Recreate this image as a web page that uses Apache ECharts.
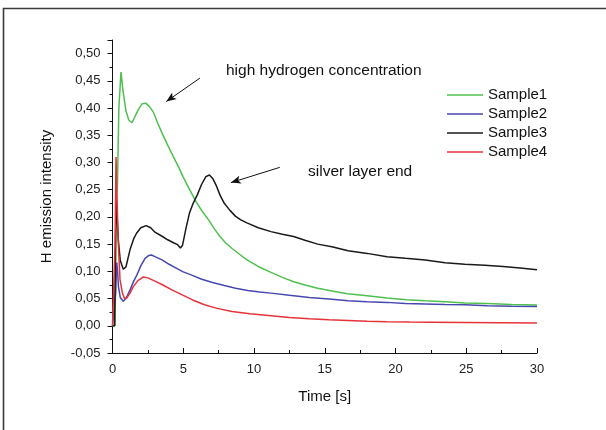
<!DOCTYPE html>
<html>
<head>
<meta charset="utf-8">
<script src="https://cdn.jsdelivr.net/npm/echarts@6/dist/echarts.min.js"></script>
<style>
  html, body { margin: 0; padding: 0; background: #ffffff; }
  #chart { width: 606px; height: 430px; }
</style>
</head>
<body>
<div id="chart"></div>
<script>
// H emission intensity over time, four samples: [time s, intensity]
const sample1 = [[0,0],[0.18,0],[0.28,0.23],[0.35,0.26],[0.45,0.40],[0.6,0.466],[0.75,0.43],[0.95,0.395],[1.15,0.378],[1.38,0.373],[1.6,0.385],[1.85,0.398],[2.1,0.408],[2.35,0.409],[2.6,0.403],[2.9,0.392],[3.2,0.372],[3.5,0.354],[3.9,0.332],[4.35,0.308],[4.7,0.29],[5.0,0.273],[5.45,0.25],[5.9,0.228],[6.35,0.21],[6.8,0.194],[7.2,0.178],[7.6,0.164],[8.0,0.152],[8.45,0.142],[9.0,0.131],[9.5,0.121],[10.3,0.109],[11.2,0.098],[12.0,0.089],[12.8,0.081],[13.6,0.075],[14.5,0.069],[15.5,0.064],[16.6,0.059],[18.0,0.055],[19.4,0.051],[20.8,0.048],[22.1,0.046],[23.5,0.044],[24.9,0.042],[26.5,0.041],[28.2,0.039],[30,0.038]];
const sample2 = [[0,0],[0.13,0],[0.22,0.06],[0.3,0.116],[0.36,0.1],[0.42,0.072],[0.55,0.052],[0.76,0.045],[0.95,0.05],[1.24,0.066],[1.5,0.082],[1.7,0.092],[2.0,0.11],[2.3,0.124],[2.55,0.129],[2.76,0.13],[3.0,0.127],[3.5,0.121],[4.0,0.113],[4.5,0.106],[5.0,0.099],[5.6,0.093],[6.26,0.086],[7.0,0.08],[7.9,0.074],[8.7,0.069],[9.55,0.065],[10.4,0.062],[11.2,0.06],[12.5,0.056],[13.9,0.052],[15.3,0.049],[16.65,0.046],[18.0,0.044],[19.4,0.043],[20.7,0.041],[22.1,0.040],[23.5,0.039],[24.9,0.0385],[26.5,0.037],[28.2,0.036],[30,0.0355]];
const sample3 = [[0,0],[0.15,0],[0.22,0.17],[0.28,0.23],[0.35,0.19],[0.41,0.158],[0.55,0.12],[0.76,0.104],[0.95,0.108],[1.24,0.14],[1.5,0.16],[1.7,0.17],[2.0,0.18],[2.38,0.184],[2.7,0.18],[3.0,0.172],[3.53,0.164],[3.9,0.158],[4.35,0.152],[4.6,0.149],[4.8,0.143],[4.95,0.148],[5.2,0.18],[5.44,0.207],[5.7,0.225],[6.0,0.241],[6.3,0.26],[6.6,0.274],[6.85,0.277],[7.1,0.27],[7.36,0.256],[7.6,0.24],[7.9,0.225],[8.3,0.212],[8.7,0.201],[9.1,0.194],[9.5,0.189],[10.3,0.18],[11.2,0.173],[12.0,0.168],[12.8,0.164],[13.6,0.157],[14.5,0.15],[15.5,0.145],[16.65,0.138],[18.0,0.133],[19.4,0.127],[20.7,0.124],[22.1,0.121],[23.5,0.116],[24.9,0.113],[26.3,0.111],[27.6,0.109],[28.8,0.106],[30,0.103]];
const sample4 = [[0,0],[0.1,0],[0.18,0.15],[0.25,0.31],[0.3,0.25],[0.41,0.152],[0.53,0.085],[0.7,0.06],[0.85,0.05],[1.0,0.051],[1.24,0.06],[1.47,0.072],[1.8,0.083],[2.16,0.0895],[2.5,0.088],[3.0,0.082],[3.53,0.0754],[4.2,0.066],[5.0,0.0558],[5.7,0.047],[6.5,0.0386],[7.4,0.032],[8.45,0.0263],[9.7,0.022],[11.2,0.0184],[12.5,0.015],[13.9,0.0129],[15.3,0.011],[16.65,0.0098],[18.0,0.0085],[19.4,0.0074],[21,0.0068],[22.5,0.0064],[24.9,0.006],[27.5,0.0055],[30,0.005]];

const seriesNames = ['Sample1', 'Sample2', 'Sample3', 'Sample4'];
const seriesColors = ['#4fc04f', '#4747b0', '#1a1a1a', '#e5333a'];

// annotation arrows, in data coordinates: [from, to]
const arrowHydrogen = [[6.18, 0.455], [3.8, 0.412]];
const arrowSilver = [[11.82, 0.291], [8.37, 0.263]];

const FONT = '"Liberation Sans", Arial, sans-serif';
const chart = echarts.init(document.getElementById('chart'), null, { renderer: 'canvas' });

const allData = [sample1, sample2, sample3, sample4];
const series = allData.map((d, i) => ({
  name: seriesNames[i],
  type: 'line',
  data: d,
  symbol: 'none',
  showSymbol: false,
  lineStyle: { width: 1.5, color: seriesColors[i] },
  itemStyle: { color: seriesColors[i] },
  z: 2 + i
}));

// arrows pointing at features of the curves
series.push({
  type: 'line',
  data: [],
  silent: true,
  markLine: {
    silent: true,
    animation: false,
    symbol: ['none', 'arrow'],
    symbolSize: [6, 10],
    label: { show: false },
    lineStyle: { color: '#111', width: 1, type: 'solid' },
    emphasis: { disabled: true },
    data: [
      [{ coord: arrowHydrogen[0] }, { coord: arrowHydrogen[1] }],
      [{ coord: arrowSilver[0] }, { coord: arrowSilver[1] }]
    ]
  }
});

const fmt = v => v.toFixed(2).replace('.', ',');

chart.setOption({
  animation: false,
  backgroundColor: '#ffffff',
  textStyle: { fontFamily: FONT },
  grid: { left: 112.5, right: 69, top: 40, bottom: 77, containLabel: false },
  legend: {
    orient: 'vertical',
    left: 447,
    top: 87,
    padding: 0,
    icon: 'rect',
    itemWidth: 36,
    itemHeight: 1.6,
    itemGap: 3,
    selectedMode: false,
    data: seriesNames,
    textStyle: { fontSize: 15, color: '#111', fontFamily: FONT, lineHeight: 16 }
  },
  xAxis: {
    type: 'value',
    min: 0,
    max: 30,
    interval: 5,
    name: 'Time [s]',
    nameLocation: 'middle',
    nameGap: 36,
    nameTextStyle: { fontSize: 15, color: '#111', fontFamily: FONT },
    axisLine: { onZero: false, lineStyle: { color: '#111', width: 1 } },
    axisTick: { inside: true, length: 5, lineStyle: { color: '#111' } },
    minorTick: { show: true, splitNumber: 2, length: 3, lineStyle: { color: '#111' } },
    axisLabel: { fontSize: 13, color: '#222', margin: 10, fontFamily: FONT },
    splitLine: { show: false }
  },
  yAxis: {
    type: 'value',
    min: -0.05,
    max: 0.525,
    interval: 0.05,
    position: 'left',
    name: 'H emission intensity',
    nameLocation: 'middle',
    nameRotate: 90,
    nameGap: 58,
    nameTextStyle: { fontSize: 15, color: '#111', fontFamily: FONT },
    axisLine: { show: true, onZero: false, lineStyle: { color: '#111', width: 1 } },
    axisTick: { show: true, inside: false, length: 5, lineStyle: { color: '#111' } },
    minorTick: { show: true, splitNumber: 2, length: 3, lineStyle: { color: '#111' } },
    axisLabel: {
      fontSize: 13, color: '#222', margin: 12, fontFamily: FONT,
      formatter: v => (v > 0.51 ? '' : fmt(v))
    },
    splitLine: { show: false }
  },
  series: series,
  graphic: [
    {
      type: 'rect',
      silent: true,
      shape: { x: 3.5, y: 8.5, width: 640, height: 500 },
      style: { fill: 'none', stroke: '#3a3a3a', lineWidth: 1.6 }
    },
    {
      type: 'text',
      silent: true,
      left: 226,
      top: 63,
      style: { text: 'high hydrogen concentration', fontSize: 15.5, fontFamily: FONT, fill: '#111' }
    },
    {
      type: 'text',
      silent: true,
      left: 308,
      top: 164,
      style: { text: 'silver layer end', fontSize: 15.5, fontFamily: FONT, fill: '#111' }
    }
  ]
});
</script>
</body>
</html>
